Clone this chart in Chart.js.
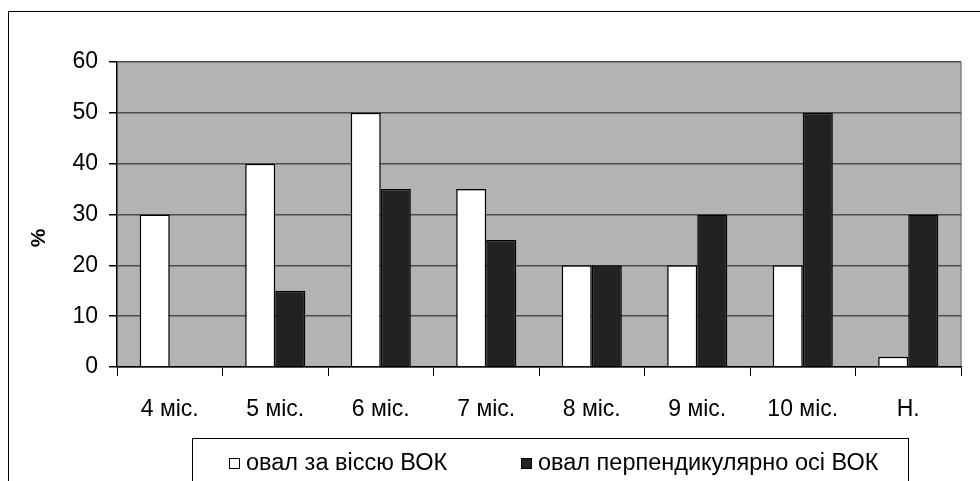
<!DOCTYPE html>
<html>
<head>
<meta charset="utf-8">
<script src="https://cdn.jsdelivr.net/npm/chart.js@4.4.0/dist/chart.umd.min.js"></script>
<style>
    html, body { margin: 0; padding: 0; background: #fff; overflow: hidden; }
    #wrap { position: relative; width: 980px; height: 481px; }
    #frame { position: absolute; left: 8px; top: 11px; width: 1000px; height: 500px; border: 1px solid #000; box-sizing: border-box; }
    canvas { position: absolute; left: 0; top: 0; }
</style>
</head>
<body>
<div id="wrap">
    <div id="frame"></div>
    <canvas id="myChart" width="980" height="481"></canvas>
</div>
<script>
// Дані
const categories = ["4 міс.", "5 міс.", "6 міс.", "7 міс.", "8 міс.", "9 міс.", "10 міс.", "Н."];
const alongAxis = [30, 40, 50, 35, 20, 20, 20, 2];
const perpAxis = [0, 15, 35, 25, 20, 30, 50, 30];
const seriesNames = ["овал за віссю ВОК", "овал перпендикулярно осі ВОК"];
const yTicks = [0, 10, 20, 30, 40, 50, 60];
const yTitle = "%";

const FONT = "'Liberation Sans', Arial, sans-serif";

// Сірий фон області графіка
const plotBg = {
    id: 'plotBg',
    beforeDraw(chart) {
        const { ctx, chartArea: a } = chart;
        ctx.save();
        ctx.fillStyle = '#b3b3b3';
        ctx.fillRect(a.left, a.top, a.right - a.left, a.bottom - a.top);
        ctx.strokeStyle = '#808080';
        ctx.lineWidth = 1.5;
        ctx.beginPath();
        ctx.moveTo(a.right, a.top);
        ctx.lineTo(a.right, a.bottom);
        ctx.stroke();
        ctx.restore();
    }
};

// Легенда в рамці + підпис осі
const boxLegend = {
    id: 'boxLegend',
    afterDraw(chart) {
        const { ctx } = chart;
        ctx.save();
        ctx.strokeStyle = '#000';
        ctx.lineWidth = 1;
        ctx.strokeRect(192.5, 438.5, 716, 60);

        ctx.font = "23.5px " + FONT;
        ctx.textBaseline = 'middle';
        const items = [{ x: 229 }, { x: 521 }];
        chart.data.datasets.forEach((ds, i) => {
            const x = items[i].x, y = 463;
            ctx.fillStyle = ds.backgroundColor;
            ctx.fillRect(x, y - 5, 10, 10);
            ctx.strokeStyle = '#000';
            ctx.strokeRect(x + 0.5, y - 4.5, 10, 10);
            ctx.fillStyle = '#000';
            ctx.fillText(ds.label, x + 17, y + 1);
        });

        ctx.translate(39, 238);
        ctx.rotate(-Math.PI / 2);
        ctx.font = "bold 21px " + FONT;
        ctx.textAlign = 'center';
        ctx.fillText(yTitle, 0, 0);
        ctx.restore();
    }
};

const data = {
    labels: categories,
    datasets: [{
        label: seriesNames[0],
        data: alongAxis,
        backgroundColor: '#ffffff',
        borderColor: '#000000',
        borderWidth: 1.5,
        barPercentage: 1,
        categoryPercentage: 0.57
    }, {
        label: seriesNames[1],
        data: perpAxis,
        backgroundColor: '#222222',
        borderColor: '#000000',
        borderWidth: 1.5,
        barPercentage: 1,
        categoryPercentage: 0.57
    }]
};

const config = {
    type: 'bar',
    data: data,
    options: {
        responsive: false,
        animation: false,
        layout: { padding: { left: 0, right: 19, top: 62, bottom: 43 } },
        plugins: {
            legend: { display: false },
            tooltip: { enabled: false }
        },
        scales: {
            x: {
                afterFit: (s) => { s.height = 71; },
                border: { color: '#000', width: 1.5 },
                grid: { offset: true, drawOnChartArea: false, color: '#000', tickLength: 9, lineWidth: 1 },
                ticks: { color: '#000', font: { family: FONT, size: 23 }, padding: 20 }
            },
            y: {
                min: 0,
                max: 60,
                afterFit: (s) => { s.width = 117; },
                afterBuildTicks: (s) => { s.ticks = yTicks.map(v => ({ value: v })); },
                border: { color: '#000', width: 1.5 },
                grid: { color: '#4d4d4d', lineWidth: 1.5, tickLength: 8, tickColor: '#000' },
                ticks: { color: '#000', font: { family: FONT, size: 23 }, padding: 11 }
            }
        }
    },
    plugins: [plotBg, boxLegend]
};

const myChart = new Chart(document.getElementById('myChart'), config);
</script>
</body>
</html>
